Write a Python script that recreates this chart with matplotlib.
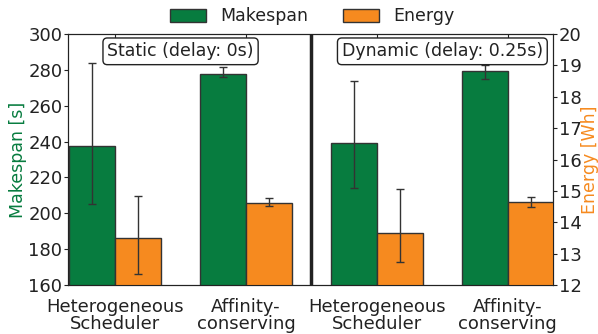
import matplotlib
matplotlib.use('Agg')
import matplotlib.pyplot as plt
import numpy as np
from matplotlib.patches import Patch

# data
groups = ["Heterogeneous\nScheduler", "Affinity-\nconserving",
          "Heterogeneous\nScheduler", "Affinity-\nconserving"]
makespan = [237.5, 278.0, 239.1, 279.6]
makespan_lo = [205.0, 276.2, 214.0, 274.8]
makespan_hi = [283.7, 281.5, 274.0, 282.8]
energy = [13.49, 14.62, 13.65, 14.65]
energy_lo = [12.34, 14.51, 12.72, 14.48]
energy_hi = [14.83, 14.78, 15.06, 14.79]
panels = ["Static (delay: 0s)", "Dynamic (delay: 0.25s)"]

green = '#077c3f'
orange = '#f68a1f'
dark = '#222222'

plt.rcParams['font.family'] = 'DejaVu Sans'
plt.rcParams['font.size'] = 12.5
plt.rcParams['xtick.labelsize'] = 13
plt.rcParams['ytick.labelsize'] = 13
plt.rcParams['text.color'] = dark
plt.rcParams['xtick.color'] = dark
plt.rcParams['ytick.color'] = dark
plt.rcParams['axes.edgecolor'] = dark

x = np.arange(len(groups))
w = 0.35
m = np.array(makespan)
e = np.array(energy)
m_err = [m - np.array(makespan_lo), np.array(makespan_hi) - m]
e_err = [e - np.array(energy_lo), np.array(energy_hi) - e]

fig = plt.figure(figsize=(5.98, 3.34), dpi=100)
ax = fig.add_axes([0.1137, 0.1467, 0.811, 0.7513])
ax2 = ax.twinx()

ax.bar(x - w / 2, m, w, color=green, edgecolor='#333333', linewidth=1)
ax.errorbar(x - w / 2, m, yerr=m_err, fmt='none', ecolor='#333333',
            elinewidth=1, capsize=3, capthick=1)
ax2.bar(x + w / 2, e, w, color=orange, edgecolor='#333333', linewidth=1)
ax2.errorbar(x + w / 2, e, yerr=e_err, fmt='none', ecolor='#333333',
             elinewidth=1, capsize=3, capthick=1)

ax.set_xlim(-0.36, 3.345)
ax.set_ylim(160, 300)
ax2.set_ylim(12, 20)
ax.set_yticks(np.arange(160, 301, 20))
ax2.set_yticks(np.arange(12, 21, 1))
ax.set_xticks(x)
ax.set_xticklabels(groups, linespacing=0.95)
ax.set_ylabel("Makespan [s]", color=green, labelpad=1)
ax2.set_ylabel("Energy [Wh]", color=orange, labelpad=0)
ax.tick_params(axis='y', direction='out', length=3, pad=1)
ax.tick_params(axis='x', direction='in', top=True, bottom=False,
               length=3, pad=9)
ax2.tick_params(direction='out', length=3, pad=1)

ax2.axvline(1.5, color=dark, lw=2.5)
for i, label in enumerate(panels):
    ax2.text(0.5 + 2 * i, 19.45, label, ha='center', va='center',
             bbox=dict(boxstyle='round,pad=0.25', fc='white', ec=dark, lw=1))

handles = [Patch(facecolor=green, edgecolor='#333333', label="Makespan"),
           Patch(facecolor=orange, edgecolor='#333333', label="Energy")]
fig.legend(handles=handles, loc='upper center', bbox_to_anchor=(0.522, 1.025),
           ncol=2, frameon=False, handlelength=2.1, handleheight=0.75,
           columnspacing=2.0)

fig.savefig("out.png", dpi=100)
plt.close()
print("Saved: out.png")
